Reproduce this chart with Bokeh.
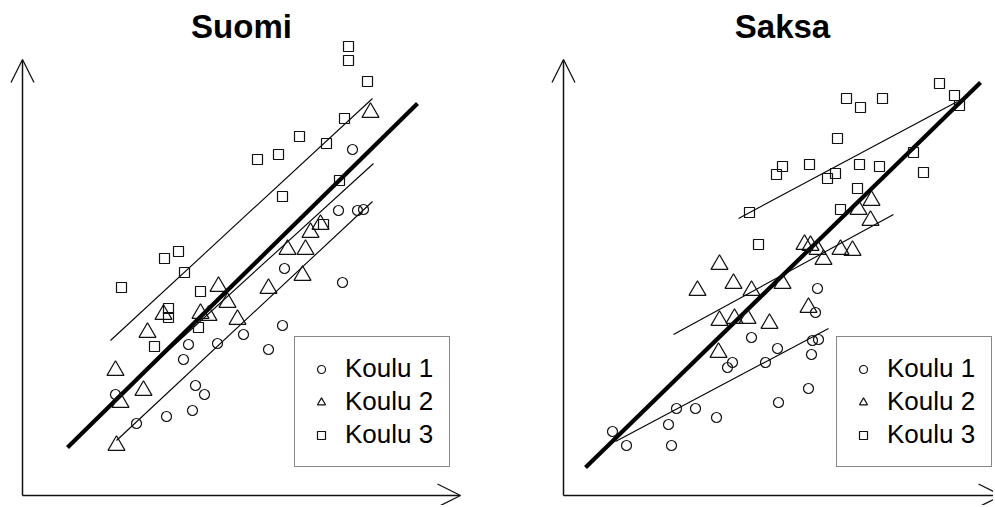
from bokeh.plotting import figure
from bokeh.layouts import row
from bokeh.models import Range1d, Arrow, OpenHead, Label, Legend, LegendItem, ColumnDataSource
from bokeh.embed import file_html
from bokeh.resources import INLINE

# ---------------- data (arbitrary score units, no tick labels in the original) ----------------
schools = ["Koulu 1", "Koulu 2", "Koulu 3"]
titles = ["Suomi", "Saksa"]

# Suomi
fi_k1_x = [330, 316, 335, 341, 262, 320, 260, 221, 246, 195, 166, 161, 173, 182, 170, 144, 114, 93]
fi_k1_y = [346, 285, 285, 286, 227, 213, 170, 161, 146, 152, 151, 136, 110, 101, 85, 79, 72, 101]
fi_k2_x = [348, 298, 288, 265, 283, 280, 246, 196, 205, 178, 186, 215, 141, 125, 93, 121, 98, 94]
fi_k2_y = [383, 271, 263, 246, 246, 220, 207, 209, 193, 182, 180, 176, 181, 163, 125, 105, 93, 50]
fi_k3_x = [326, 326, 345, 322, 277, 304, 256, 235, 317, 260, 301, 156, 142, 162, 99, 178, 146, 146, 176, 132]
fi_k3_y = [449, 435, 414, 377, 359, 352, 341, 336, 315, 299, 271, 244, 237, 223, 208, 204, 187, 178, 168, 149]
# fitted lines (start/end)
fi_fit_all_x = [45, 395]
fi_fit_all_y = [48, 392]
fi_fit_k1_x = [94, 350]
fi_fit_k1_y = [55, 294]
fi_fit_k2_x = [93, 351]
fi_fit_k2_y = [97, 332]
fi_fit_k3_x = [88, 350]
fi_fit_k3_y = [155, 397]

# Saksa
de_k1_x = [254, 252, 188, 214, 255, 249, 248, 202, 169, 164, 245, 215, 113, 132, 153, 105, 49, 63, 108]
de_k1_y = [207, 183, 158, 147, 156, 155, 141, 133, 133, 128, 107, 93, 87, 87, 78, 71, 64, 50, 50]
de_k2_x = [308, 295, 307, 241, 247, 254, 277, 289, 260, 156, 170, 134, 188, 219, 156, 171, 184, 206, 245, 155]
de_k2_y = [295, 286, 275, 251, 250, 246, 246, 245, 236, 231, 212, 205, 205, 212, 175, 177, 177, 172, 188, 143]
de_k3_x = [376, 391, 396, 283, 297, 319, 274, 350, 360, 219, 213, 246, 272, 264, 296, 316, 294, 277, 186, 195]
de_k3_y = [412, 400, 390, 397, 388, 397, 357, 343, 323, 329, 321, 331, 322, 317, 331, 329, 307, 286, 283, 251]
de_fit_all_x = [22, 417]
de_fit_all_y = [28, 413]
de_fit_k1_x = [52, 265]
de_fit_k1_y = [54, 167]
de_fit_k2_x = [110, 330]
de_fit_k2_y = [161, 281]
de_fit_k3_x = [175, 394]
de_fit_k3_y = [277, 394]

# axis extents (arrow lengths) in data units
X_AXIS_END = 438
Y_AXIS_END = 436

# ---------------- styling ----------------
H = 505
Y0 = -10
FONT = "Liberation Sans"
markers = ["circle", "triangle", "square"]
msizes = [10, 17, 10]
INK = "#111111"


def make_panel(title, pts, fits, fit_all, width, x_start, legend_x):
    p = figure(width=width, height=H,
               x_range=Range1d(x_start, x_start + width),
               y_range=Range1d(Y0, Y0 + H),
               output_backend="svg", toolbar_location=None,
               x_axis_location=None, y_axis_location=None,
               min_border=0, outline_line_color=None)
    p.grid.visible = False
    p.background_fill_color = "white"
    p.border_fill_color = "white"

    # axes as arrows
    p.add_layout(Arrow(x_start=0, y_start=0, x_end=0, y_end=Y_AXIS_END,
                       line_width=1.5, line_color=INK,
                       end=OpenHead(size=23, line_width=1.3, line_color=INK)))
    p.add_layout(Arrow(x_start=0, y_start=0, x_end=X_AXIS_END, y_end=0,
                       line_width=1.5, line_color=INK,
                       end=OpenHead(size=23, line_width=1.3, line_color=INK)))

    # school regression lines
    for fx, fy in fits:
        p.line(fx, fy, line_width=1.1, line_color="black")
    # overall line
    p.line(fit_all[0], fit_all[1], line_width=4.2, line_color="black")

    items = []
    for i, (xs, ys) in enumerate(pts):
        src = ColumnDataSource(dict(x=xs, y=ys))
        r = p.scatter("x", "y", source=src, marker=markers[i], size=msizes[i],
                      fill_color=None, line_color=INK, line_width=1.2)
        items.append(LegendItem(label=schools[i], renderers=[r]))

    leg = Legend(items=items, location=(legend_x, 38), margin=0,
                 padding=16, spacing=2, glyph_width=20, glyph_height=20,
                 label_standoff=14, label_text_font=FONT,
                 label_text_font_size="26px", label_text_color="black",
                 border_line_color=INK, border_line_width=1.3,
                 background_fill_color="white", background_fill_alpha=1.0)
    p.add_layout(leg)

    p.add_layout(Label(x=X_AXIS_END / 2, y=469, text=title,
                       text_align="center", text_baseline="alphabetic",
                       text_font=FONT, text_font_style="bold",
                       text_font_size="33px", text_color="black"))
    return p


p1 = make_panel(titles[0],
                [(fi_k1_x, fi_k1_y), (fi_k2_x, fi_k2_y), (fi_k3_x, fi_k3_y)],
                [(fi_fit_k1_x, fi_fit_k1_y), (fi_fit_k2_x, fi_fit_k2_y), (fi_fit_k3_x, fi_fit_k3_y)],
                (fi_fit_all_x, fi_fit_all_y),
                width=495, x_start=-22, legend_x=294)
p2 = make_panel(titles[1],
                [(de_k1_x, de_k1_y), (de_k2_x, de_k2_y), (de_k3_x, de_k3_y)],
                [(de_fit_k1_x, de_fit_k1_y), (de_fit_k2_x, de_fit_k2_y), (de_fit_k3_x, de_fit_k3_y)],
                (de_fit_all_x, de_fit_all_y),
                width=498, x_start=-68, legend_x=341)

layout = row(p1, p2)
open("out.html", "w").write(file_html(layout, INLINE))
